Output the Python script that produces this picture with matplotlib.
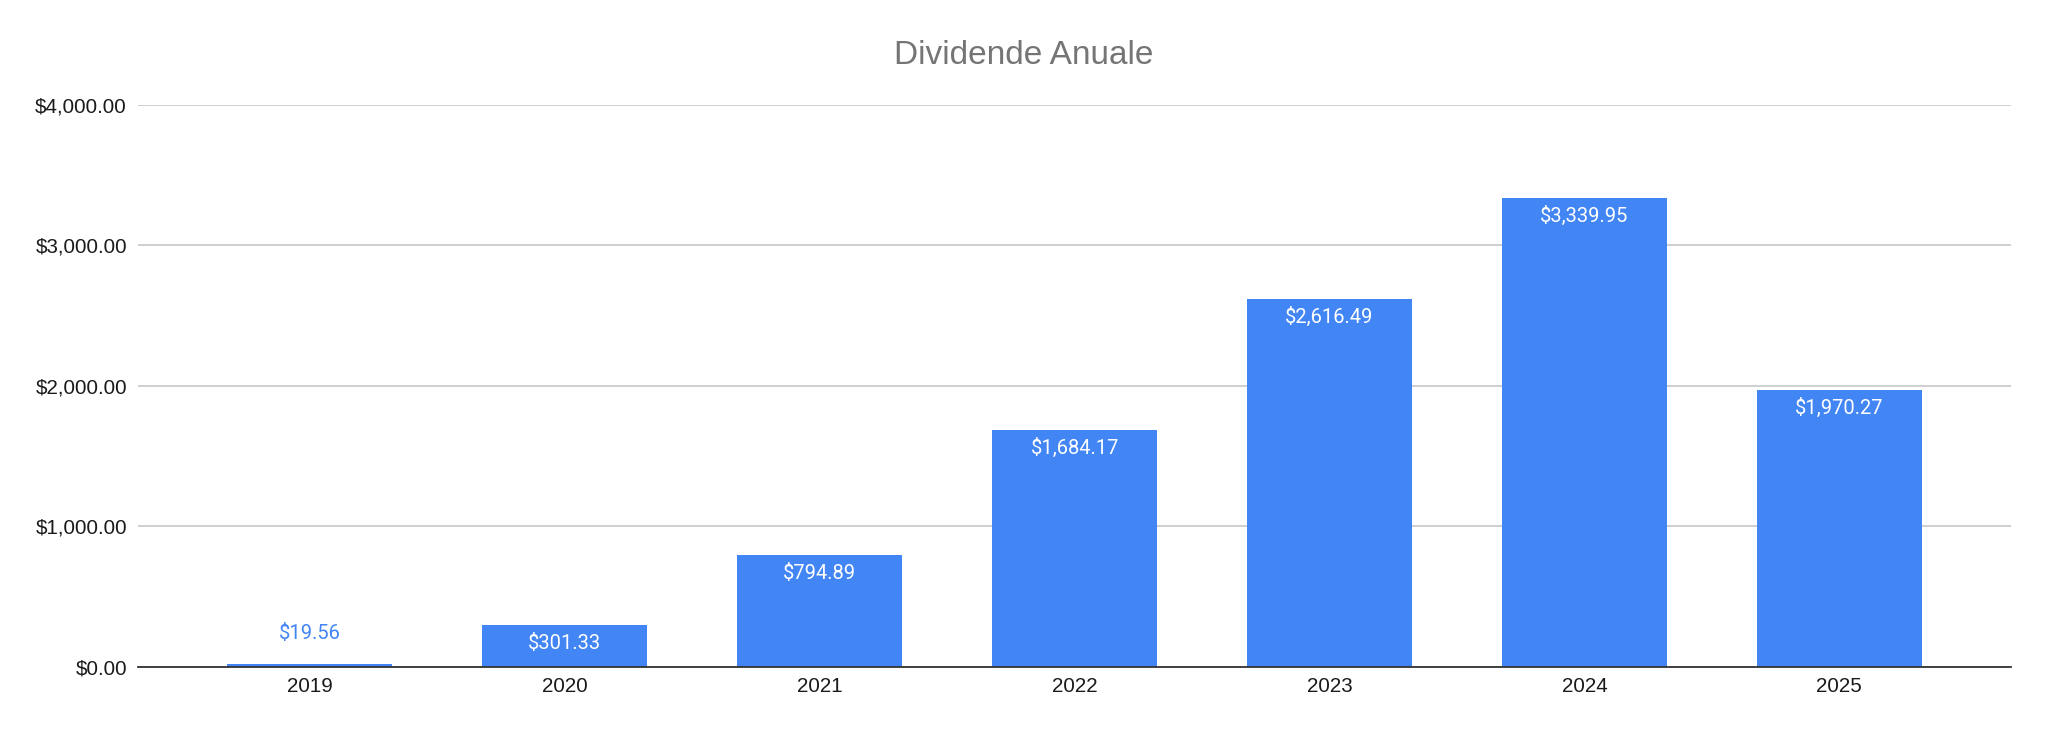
"""
annual dividends bar chart
"""
import matplotlib
matplotlib.use("Agg")
import matplotlib.pyplot as plt
from matplotlib.ticker import FuncFormatter

years = ["2019", "2020", "2021", "2022", "2023", "2024", "2025"]
dividends = [19.56, 301.33, 794.89, 1684.17, 2616.49, 3339.95, 1970.27]
y_ticks = [0, 1000, 2000, 3000, 4000]

BAR_COLOR = "#4285F4"


def money(value: float) -> str:
    return "${:,.2f}".format(value)


fig = plt.figure(figsize=(20.48, 7.34), dpi=100)
ax = fig.add_axes([0.0674, 0.0913, 0.9146, 0.7657])

x = list(range(len(years)))
bars = ax.bar(x, dividends, width=0.647, color=BAR_COLOR, zorder=3)

ax.set_xlim(-0.674, len(years) - 1 + 0.674)
ax.set_ylim(0, 4000)
ax.set_yticks(y_ticks)
ax.yaxis.set_major_formatter(FuncFormatter(lambda v, _: money(v)))
ax.set_xticks(x)
ax.set_xticklabels(years)

for label in ax.get_xticklabels() + ax.get_yticklabels():
    label.set_fontfamily("Liberation Sans")
    label.set_fontsize(14.8)
    label.set_color("#1a1a1a")
ax.tick_params(axis="both", length=0)
ax.tick_params(axis="y", pad=8)
ax.tick_params(axis="x", pad=7)

ax.grid(axis="y", color="#cccccc", linewidth=1.3, zorder=0)
ax.grid(axis="x", visible=False)
for side in ["top", "right", "left"]:
    ax.spines[side].set_visible(False)
ax.spines["bottom"].set_color("#333333")
ax.spines["bottom"].set_linewidth(1.3)
ax.spines["bottom"].set_zorder(4)

# labels sit inside the bar unless it is too short
for bar, value in zip(bars, dividends):
    cx = bar.get_x() + bar.get_width() / 2
    if value > 200:
        ax.annotate(money(value), (cx, value), xytext=(0, -17.3),
                    textcoords="offset points", ha="center", va="baseline",
                    color="white", fontsize=14.5, family="Roboto", zorder=5)
    else:
        ax.annotate(money(value), (cx, value), xytext=(0, 18),
                    textcoords="offset points", ha="center", va="baseline",
                    color=BAR_COLOR, fontsize=14.5, family="Roboto", zorder=5)

fig.text(0.5, 1 - 64 / 734, "Dividende Anuale", ha="center", va="baseline",
         fontsize=24, family="Liberation Sans", color="#757575")

fig.savefig("out.png", dpi=100, facecolor="white")
